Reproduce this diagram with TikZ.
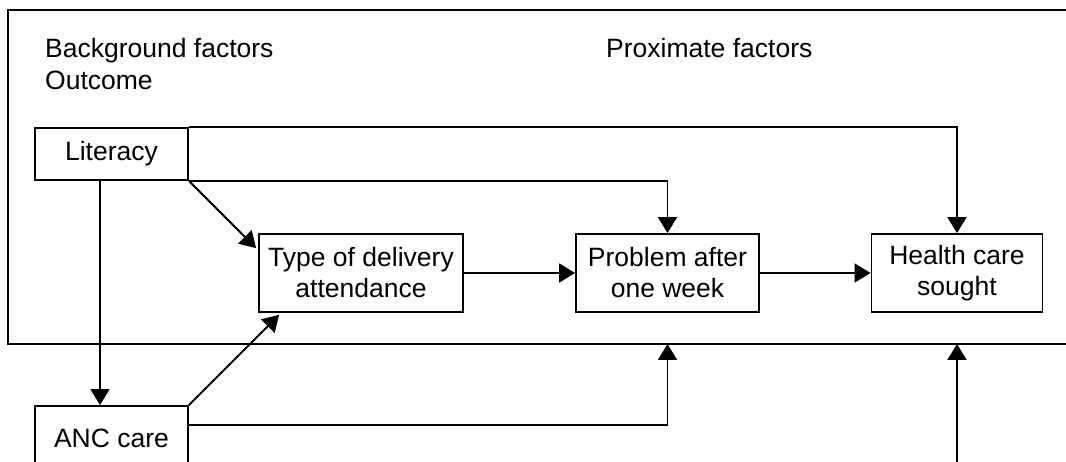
\documentclass[tikz,border=0pt]{standalone}
\usepackage{fontspec}
\setmainfont{Liberation Sans}
\usetikzlibrary{arrows.meta,calc}
\begin{document}
\begin{tikzpicture}[x=1pt,y=-1pt,
  every node/.style={font=\fontsize{26.5}{31}\selectfont},
  box/.style={draw,line width=1.8pt,rectangle,align=center,inner sep=0pt},
  conn/.style={line width=1.8pt},
  arr/.style={conn,-{Triangle[length=16pt,width=19pt]}},
  lbl/.style={anchor=base west,inner sep=0pt}]
\useasboundingbox (0,0) rectangle (1066,462);
\clip (0,0) rectangle (1066,462);
% outer frame
\coordinate (otl) at (8,10);
\coordinate (obr) at (1090,344);
\draw[conn] (otl) rectangle (obr);
% labels
\node[lbl] (bg) at (45,58) {Background factors};
\node[lbl] (oc) at (45,90) {Outcome};
\node[lbl] (px) at (606,58) {Proximate factors};
% boxes
\node[box,minimum width=153pt,minimum height=52pt] (lit) at (111.5,154) {Literacy};
\node[box,minimum width=204pt,minimum height=78pt] (type) at (361,273) {Type of delivery\\attendance};
\node[box,minimum width=183pt,minimum height=78pt] (prob) at (667.5,273) {Problem after\\one week};
\node[box,minimum width=171pt,minimum height=78pt] (health) at (957,273) {Health care\\sought};
\node[box,minimum width=153pt,minimum height=64pt] (anc) at (111.5,438) {ANC care};
\coordinate (hb) at (957,480);
% connectors
\draw[arr] (lit.north east) -| (health.north);
\draw[arr] (lit.south east) -| (prob.north);
\draw[arr] (lit.south east) -- ($(type.north west)+(-2,15)$);
\draw[arr] ($(lit.south)+(-11.5,0)$) -- ($(anc.north)+(-11.5,0)$);
\draw[arr] (anc.north east) -- ($(type.south west)+(21,2)$);
\draw[arr] ($(anc.north east)+(0,20)$) -| (prob.south |- obr);
\draw[arr] (hb) -- (health.south |- obr);
\draw[arr] (type.east) -- (prob.west);
\draw[arr] (prob.east) -- (health.west);
\end{tikzpicture}
\end{document}
